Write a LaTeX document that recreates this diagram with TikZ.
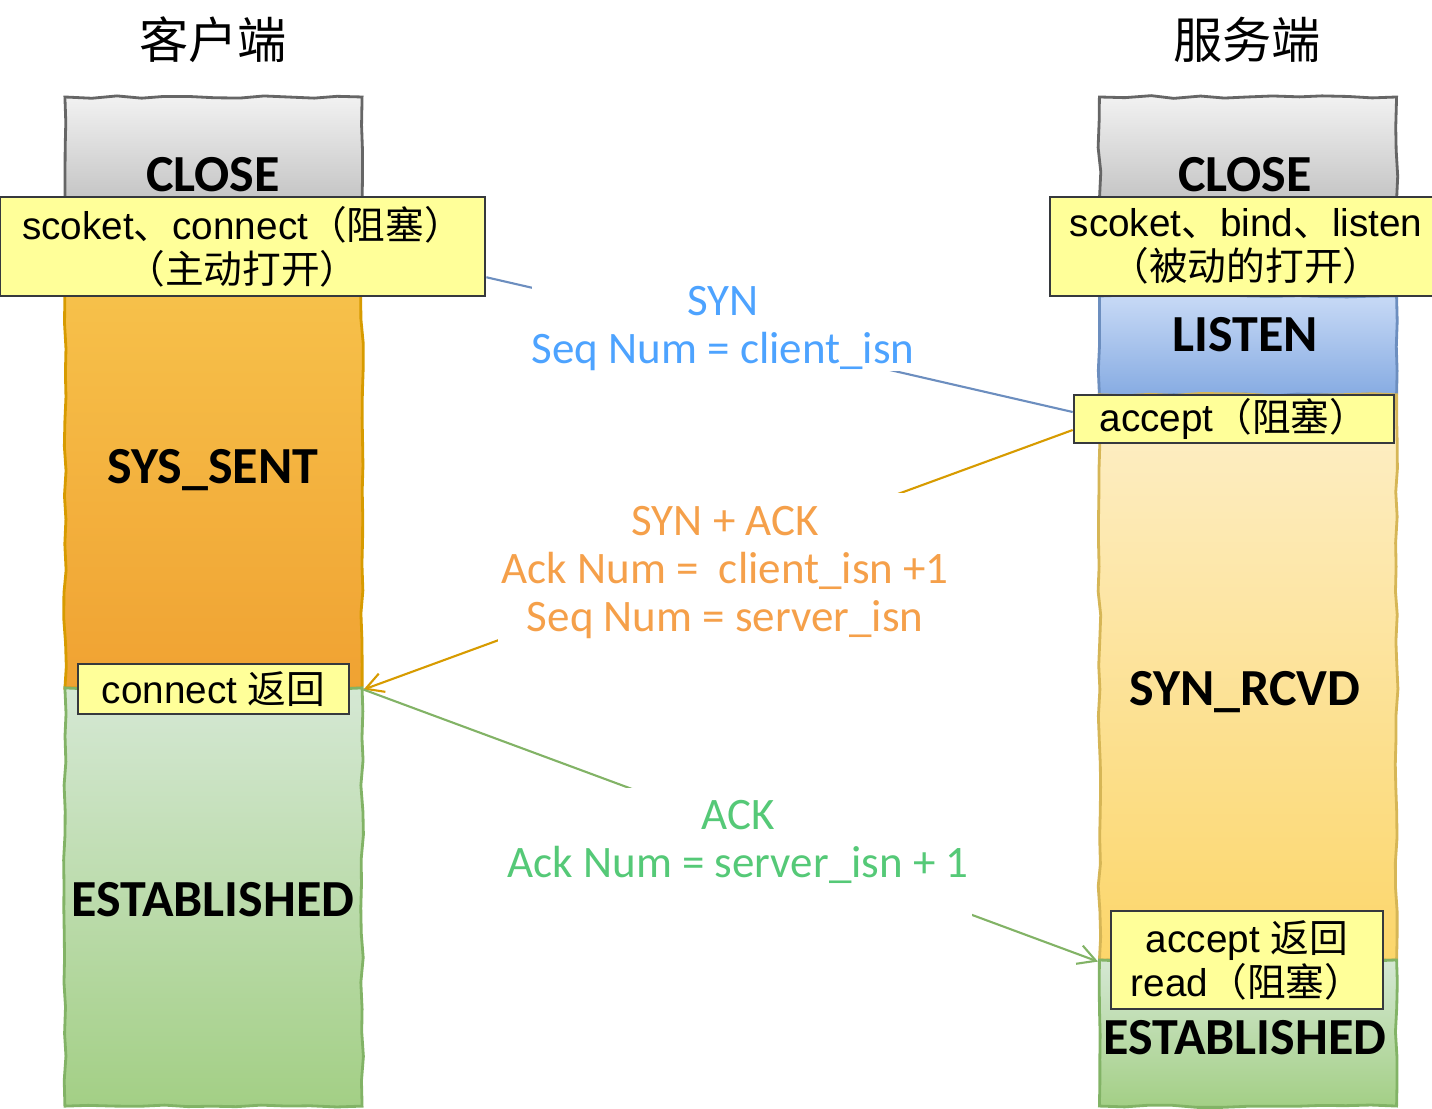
\documentclass[tikz,border=0pt]{standalone}
\usepackage{fontspec}
\setmainfont{Liberation Sans}
\newfontfamily\cjk{Noto Sans CJK SC}
\newfontfamily\comic{Carlito}
\usetikzlibrary{calc,arrows.meta,decorations.pathmorphing}
\definecolor{graytop}{HTML}{F2F2F2}
\definecolor{graybot}{HTML}{C4C4C4}
\definecolor{grayline}{HTML}{666666}
\definecolor{orangetop}{HTML}{F8C850}
\definecolor{orangebot}{HTML}{F0A232}
\definecolor{orangeline}{HTML}{D79B00}
\definecolor{greentop}{HTML}{D5E8D4}
\definecolor{greenbot}{HTML}{A3CF85}
\definecolor{greenline}{HTML}{82B366}
\definecolor{bluetop}{HTML}{C8DAF6}
\definecolor{bluebot}{HTML}{86ABE2}
\definecolor{blueline}{HTML}{6C8EBF}
\definecolor{rcvdtop}{HTML}{FDEFC8}
\definecolor{rcvdbot}{HTML}{FCD66A}
\definecolor{rcvdline}{HTML}{D6B656}
\definecolor{boxfill}{HTML}{FFFF99}
\definecolor{boxline}{HTML}{36393D}
\definecolor{syntext}{HTML}{4DA3FF}
\definecolor{acktext}{HTML}{F5A04A}
\definecolor{fintext}{HTML}{55C977}
\tikzset{
  col/.style={draw, line width=0.8pt, minimum width=2.97cm, inner sep=0pt,
    decorate, decoration={random steps,segment length=7pt,amplitude=0.4pt}},
  yelbox/.style={draw=boxline, fill=boxfill, line width=0.7pt, inner sep=0pt,
    align=center, font=\fontsize{11}{12.5}\selectfont},
  state/.style={font=\comic\bfseries\fontsize{14.8}{17}\selectfont},
  msg/.style={fill=white, align=center, inner sep=1pt,
    font=\comic\fontsize{12.8}{13.7}\selectfont},
  title/.style={font=\cjk\fontsize{14}{16}\selectfont},
  tip/.style={-{Straight Barb[length=5pt,width=5.5pt]}}
}
\begin{document}
\begin{tikzpicture}[x=0.01cm,y=-0.01cm]
\useasboundingbox (0,0) rectangle (1432,1108);

% client column
\node[col, draw=grayline, top color=graytop, bottom color=graybot, minimum height=1.03cm] (closec) at (213.5,148.5) {};
\node[col, draw=orangeline, top color=orangetop, bottom color=orangebot, minimum height=4.88cm] (sent) at (213.5,444) {};
\node[col, draw=greenline, top color=greentop, bottom color=greenbot, minimum height=4.18cm] (estc) at (213.5,897) {};

% server column
\node[col, draw=grayline, top color=graytop, bottom color=graybot, minimum height=1.03cm] (closes) at (1248,148.5) {};
\node[col, draw=blueline, top color=bluetop, bottom color=bluebot, minimum height=0.99cm] (listen) at (1248,345.5) {};
\node[col, draw=rcvdline, top color=rcvdtop, bottom color=rcvdbot, minimum height=5.65cm] (rcvd) at (1248,677.5) {};
\node[col, draw=greenline, top color=greentop, bottom color=greenbot, minimum height=1.46cm] (ests) at (1248,1033) {};

% calls
\node[yelbox, minimum width=4.85cm, minimum height=0.99cm] (sockc) at (242.5,246.5)
  {scoket{\cjk 、}connect{\cjk （阻塞）}\\{\cjk （主动打开）}};
\node[yelbox, minimum width=3.92cm, minimum height=0.99cm] (socks) at (1246,246.5)
  {scoket{\cjk 、}bind{\cjk 、}listen\\{\cjk （被动的打开）}};
\node[yelbox, minimum width=3.2cm, minimum height=0.48cm] (acc) at (1234,419)
  {accept{\cjk （阻塞）}};
\node[yelbox, minimum width=2.71cm, minimum height=0.5cm] (conn) at (213.5,689)
  {connect {\cjk 返回}};
\node[yelbox, minimum width=2.72cm, minimum height=0.98cm] (accr) at (1247,960)
  {accept {\cjk 返回}\\read{\cjk （阻塞）}};

% states
\node[state] (t-closec) at (213,175) {CLOSE};
\node[state] (t-sent) at (213,470) {SYS\_SENT};
\node[state] (t-estc) at (213,900) {ESTABLISHED};
\node[state] (t-closes) at (1245,175) {CLOSE};
\node[state] (t-listen) at (1245,335) {LISTEN};
\node[state] (t-rcvd) at (1245,692) {SYN\_RCVD};
\node[state] (t-ests) at (1245,1038) {ESTABLISHED};

% handshake
\draw[blueline, line width=0.6pt] ([yshift=0.2cm]sockc.south east) --
  node[msg, text=syntext, pos=0.404, inner sep=0pt, yshift=0.03cm] {SYN\\Seq Num = client\_isn} ([yshift=0.07cm]acc.west);
\draw[orangeline, line width=0.6pt, tip] ([yshift=-0.11cm]acc.west) --
  node[msg, text=acktext, pos=0.49, inner ysep=3.6pt, yshift=-0.15cm] {SYN + ACK\\Ack Num = \ client\_isn +1\\Seq Num = server\_isn} (sent.south east);
\draw[greenline, line width=0.6pt, tip] (sent.south east) --
  node[msg, text=fintext, pos=0.51, inner ysep=3.6pt, text depth=8pt, yshift=-0.25cm] {ACK\\Ack Num = server\_isn + 1} (rcvd.south west);

\node[title] (client) at (213,40) {客户端};
\node[title] (server) at (1247,40) {服务端};
\end{tikzpicture}
\end{document}
